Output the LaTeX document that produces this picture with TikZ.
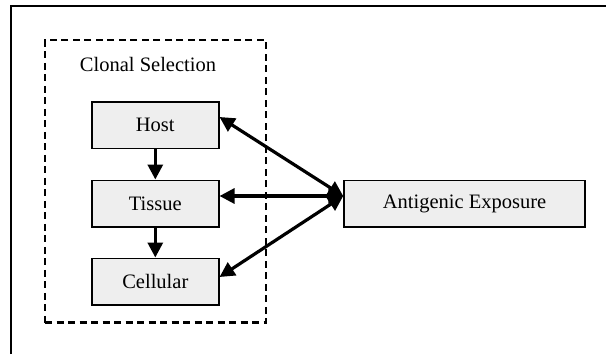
\documentclass[tikz,border=0pt]{standalone}
\usepackage{fontspec}
\setmainfont{Liberation Serif}
\usetikzlibrary{arrows.meta}
\definecolor{boxfill}{HTML}{EEEEEE}
\begin{document}
\begin{tikzpicture}[x=1pt,y=-1pt,
  stage/.style={draw=black, line width=1.5pt, fill=boxfill, minimum width=127pt, minimum height=46.5pt, inner sep=0pt, font=\fontsize{20.5}{24}\selectfont},
  conn/.style={line width=3.2pt, -{Triangle[length=15pt,width=15pt]}},
  dconn/.style={line width=3.2pt, {Triangle[length=15pt,width=15pt]}-{Triangle[length=15pt,width=15pt]}},
  lbl/.style={font=\fontsize{20.5}{24}\selectfont, inner sep=0pt}]
\useasboundingbox (0,0) rectangle (606,354);
% outer frame (top and left only)
\draw[line width=2pt] (11,354) -- (11,5.7) -- (606,5.7);
% dashed group
\node[draw, dash pattern=on 7pt off 4.5pt, line width=2.7pt, minimum width=221pt, minimum height=282.7pt, inner sep=0pt] (grp) at (155.5,181.35) {};
\node[lbl, anchor=base] (title) at (148,71.5) {Clonal Selection};
% stage boxes
\node[stage] (host) at (155.3,125) {Host};
\node[stage] (tissue) at (155.3,203.5) {Tissue};
\node[stage] (cell) at (155.3,281.5) {Cellular};
\node[stage, minimum width=241pt] (ant) at (464.5,203.5) {Antigenic Exposure};
% connectors
\draw[conn] (host) -- (tissue);
\draw[conn] (tissue) -- (cell);
\coordinate (hub) at ([yshift=7.5pt]ant.west);
\draw[dconn] ([yshift=8pt]host.east) -- (hub);
\draw[dconn] ([yshift=7.5pt]tissue.east) -- (hub);
\draw[dconn] ([yshift=4.5pt]cell.east) -- (hub);
\end{tikzpicture}
\end{document}
